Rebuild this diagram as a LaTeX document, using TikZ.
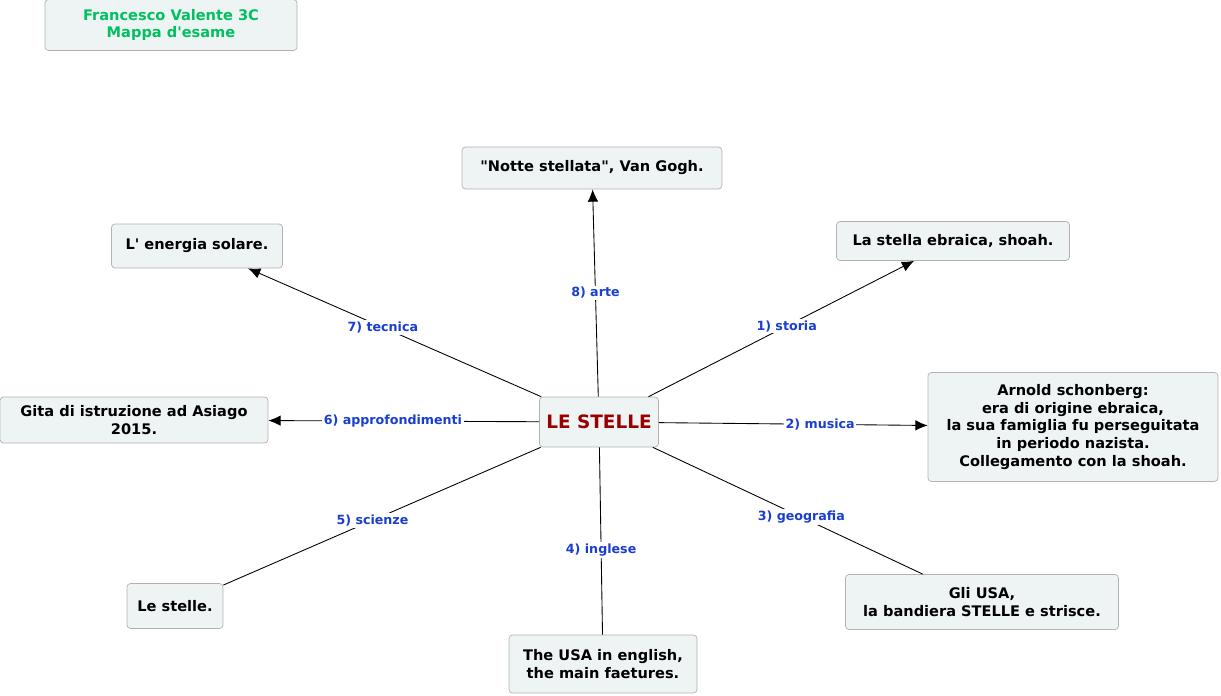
\documentclass[tikz,border=0pt]{standalone}
\usepackage{fontspec}
\setmainfont{DejaVu Sans}[Ligatures=TeXOff]
\usetikzlibrary{arrows.meta}
\begin{document}
\begin{tikzpicture}[x=0.02cm,y=-0.02cm,
  box/.style={draw=gray!60,fill=boxfill,rounded corners=2pt,font=\fontsize{8.3}{10}\selectfont\bfseries,align=center,inner sep=0pt},
  sz/.style 2 args={minimum width={#1*0.02cm},minimum height={#2*0.02cm}},
  lab/.style={fill=white,inner sep=1pt,text=labblue,font=\fontsize{7.2}{9}\selectfont\bfseries},
  arr/.style={-{Latex[length=7pt,width=6pt]}},
  ln/.style={draw=black,line width=0.5pt}]
\definecolor{boxfill}{HTML}{EEF3F3}
\definecolor{labblue}{HTML}{1A3FD0}
\definecolor{darkred}{HTML}{990000}
\definecolor{titlegreen}{HTML}{00C060}
\useasboundingbox (0,0) rectangle (1221,696);
\node[box,sz={252}{51},text=titlegreen] (t) at (171,25) {Francesco Valente 3C\\Mappa d'esame};
\node[box,sz={119}{50},text=darkred,font=\fontsize{10.5}{12}\selectfont\bfseries] (c) at (599,422) {LE STELLE};
\node[box,sz={260}{42}] (n) at (592,168) {"Notte stellata", Van Gogh.};
\node[box,sz={171}{44}] (e) at (197,246) {L' energia solare.};
\node[box,sz={233}{39}] (s) at (953,241) {La stella ebraica, shoah.};
\node[box,sz={268}{46}] (g) at (134,420) {Gita di istruzione ad Asiago\\2015.};
\node[box,sz={290}{109}] (a) at (1073,427) {Arnold schonberg:\\era di origine ebraica,\\la sua famiglia fu perseguitata\\in periodo nazista.\\Collegamento con la shoah.};
\node[box,sz={96}{45}] (l) at (175,606) {Le stelle.};
\node[box,sz={188}{58}] (u) at (603,664) {The USA in english,\\the main faetures.};
\node[box,sz={273}{55}] (b) at (982,602) {Gli USA,\\la bandiera STELLE e strisce.};
\draw[ln,arr] (c) -- node[lab,pos=0.5]{8) arte} (n);
\draw[ln,arr] (c) -- node[lab,pos=0.54]{7) tecnica} (e);
\draw[ln,arr] (c) -- node[lab,pos=0.52]{1) storia} (s);
\draw[ln,arr] (c) -- node[lab,pos=0.54]{6) approfondimenti} (g);
\draw[ln,arr] (c) -- node[lab,pos=0.6]{2) musica} (a);
\draw[ln] (c) -- node[lab,pos=0.53]{5) scienze} (l);
\draw[ln] (c) -- node[lab,pos=0.55]{4) inglese} (u);
\draw[ln] (c) -- node[lab,pos=0.55]{3) geografia} (b);
\end{tikzpicture}
\end{document}
